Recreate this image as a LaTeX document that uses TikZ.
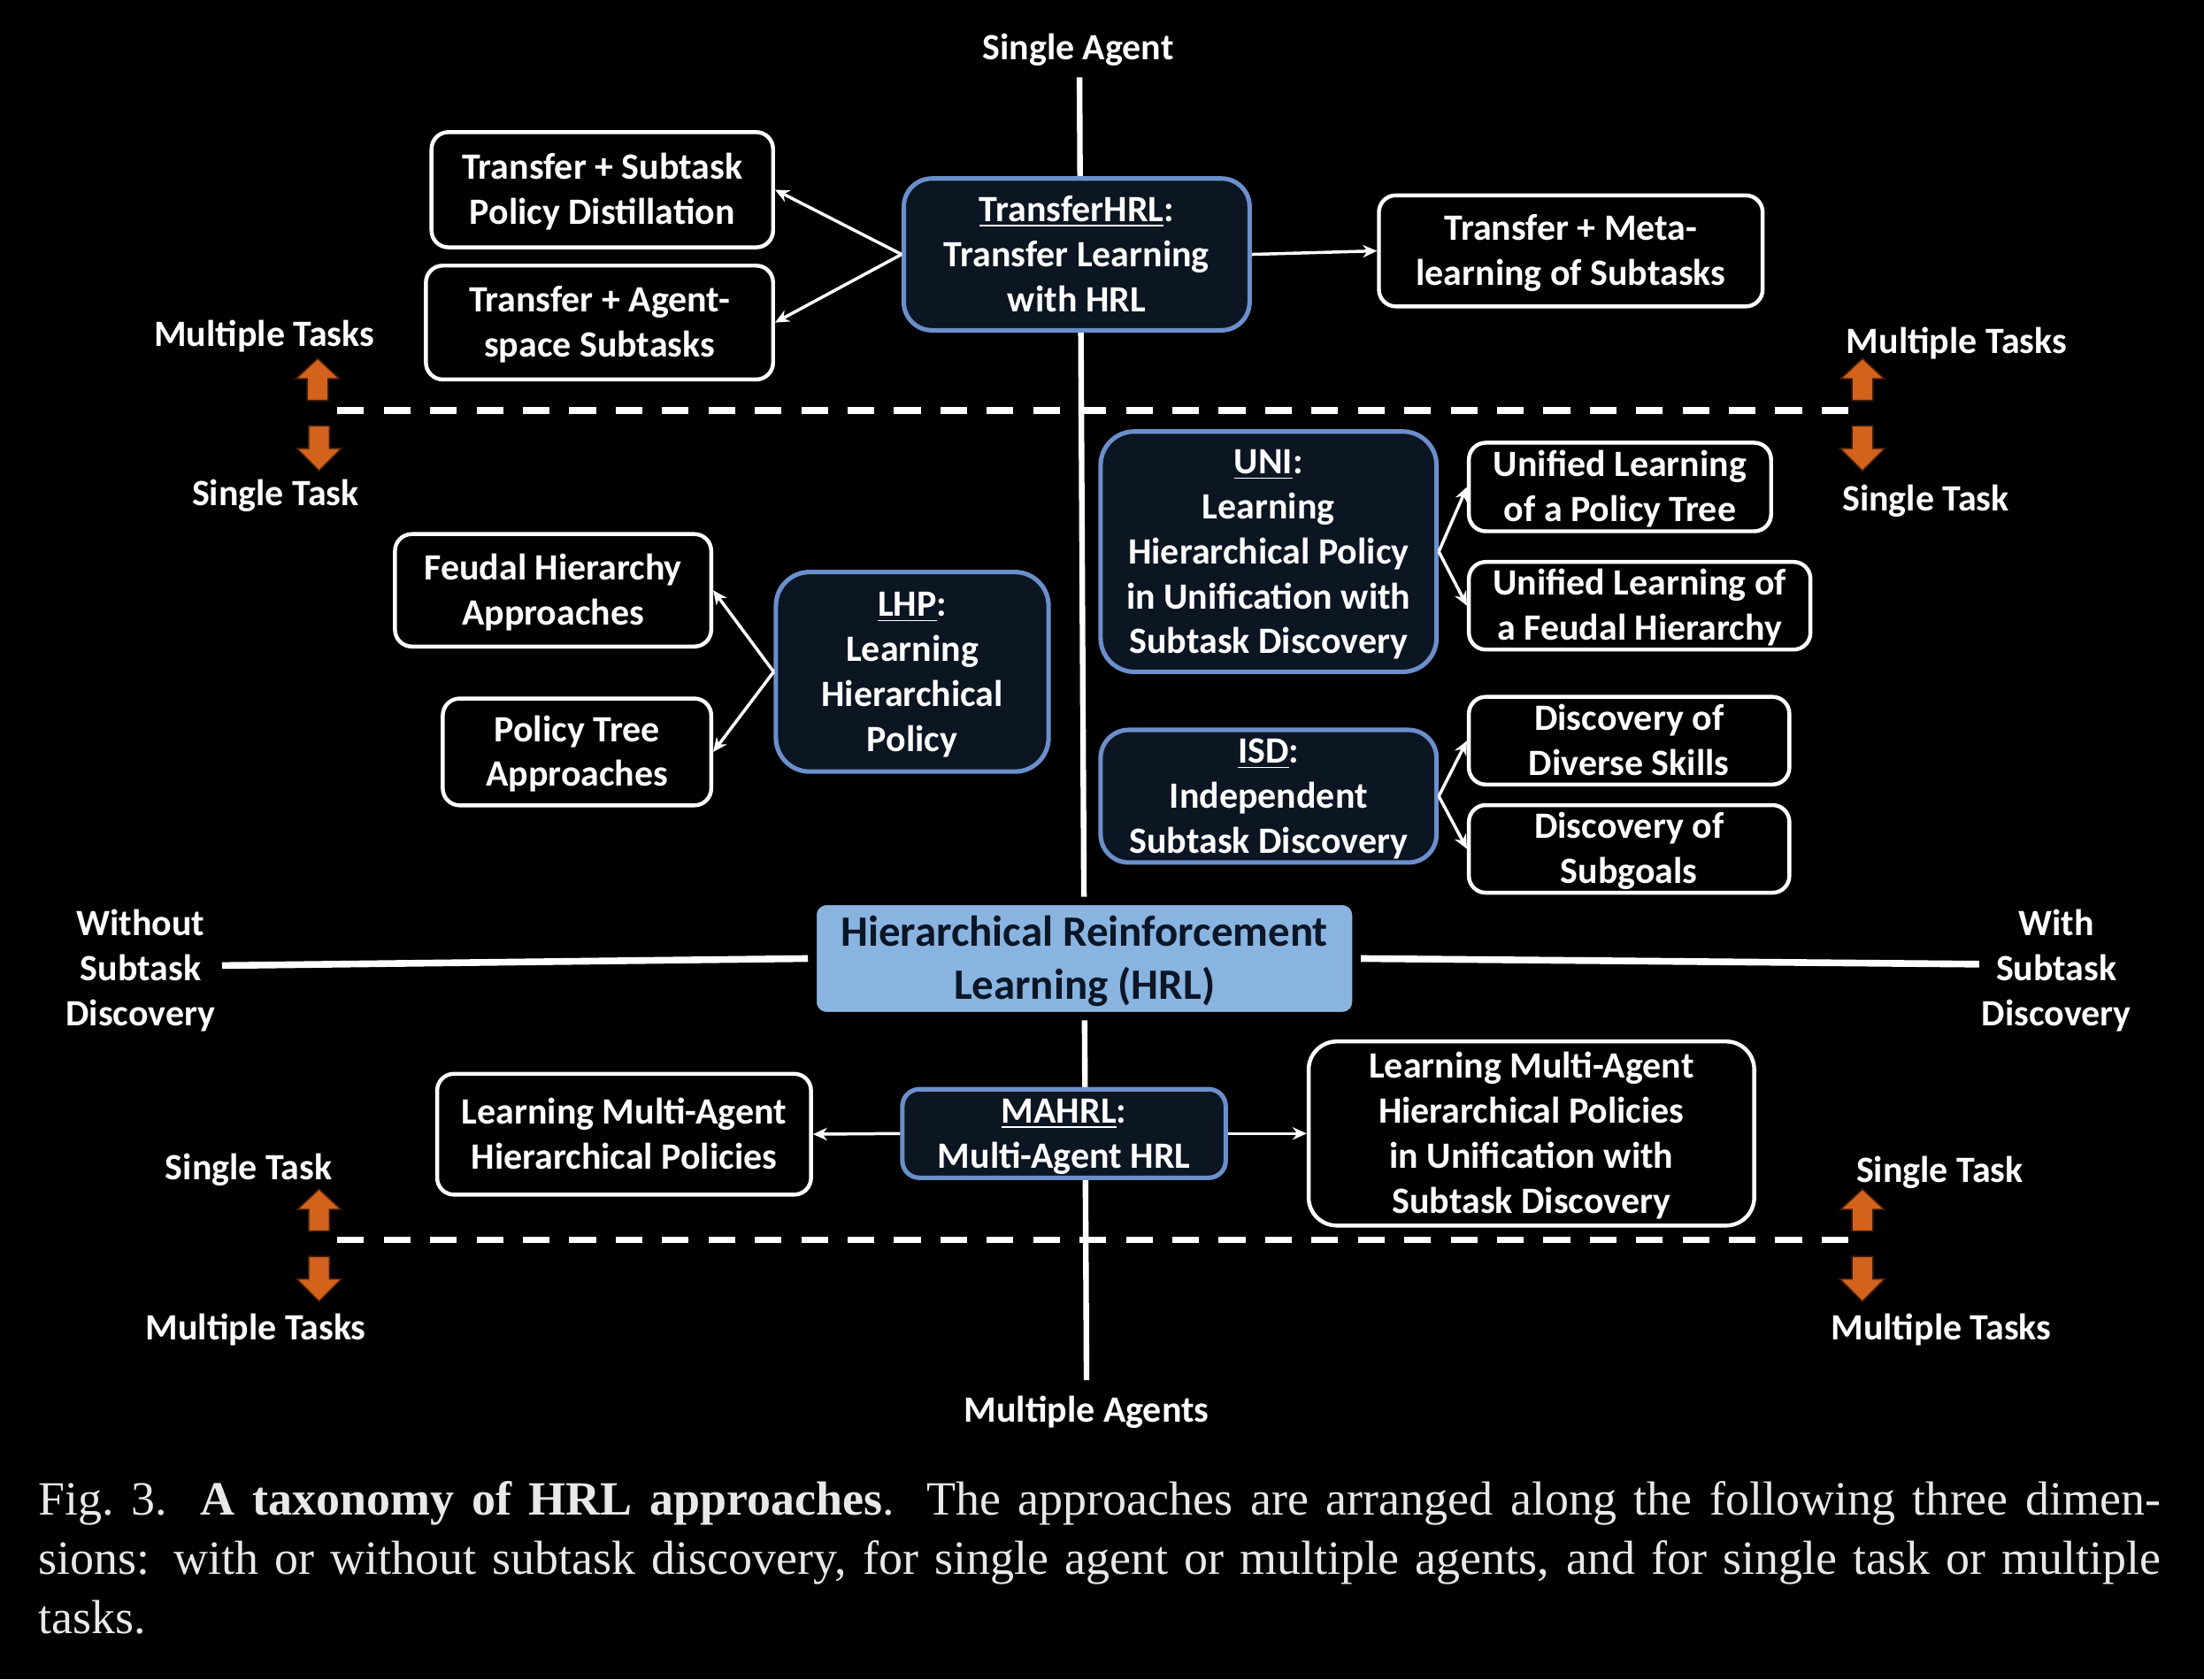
\documentclass[tikz,border=0pt]{standalone}
\usepackage{fontspec}
\setmainfont{Carlito}
\newfontfamily\capfont{Liberation Serif}
\usetikzlibrary{arrows.meta}
\definecolor{navy}{HTML}{0C1522}
\definecolor{bluebd}{HTML}{6B8FCB}
\definecolor{hrlfill}{HTML}{8AB4E0}
\definecolor{hrltext}{HTML}{0B1626}
\definecolor{orng}{HTML}{D2621C}
\definecolor{captxt}{HTML}{E8E8E8}
\pgfdeclarelayer{back}
\pgfdeclarelayer{mid}
\pgfsetlayers{back,mid,main}
\newcommand{\tstart}{\rule{0pt}{0.9em}}
\newcommand{\tend}{\rule[-0.25em]{0pt}{0pt}}
\newcommand{\orgup}[2]{\filldraw[orng arrow] ({#1-7.5},{#2+30}) -- ({#1-7.5},{#2+14.5}) -- ({#1-15.5},{#2+14.5}) -- (#1,#2) -- ({#1+15.5},{#2+14.5}) -- ({#1+7.5},{#2+14.5}) -- ({#1+7.5},{#2+30}) -- cycle;}
\newcommand{\orgdown}[2]{\filldraw[orng arrow] ({#1-7.5},#2) -- ({#1+7.5},#2) -- ({#1+7.5},{#2+16}) -- ({#1+16},{#2+16}) -- (#1,{#2+32}) -- ({#1-16},{#2+16}) -- ({#1-7.5},{#2+16}) -- cycle;}
\begin{document}
\begin{tikzpicture}[x=0.5pt,y=-0.5pt,
  every node/.style={font=\bfseries\fontsize{13.2}{16}\selectfont, text=white, align=center, inner sep=0pt},
  wbox/.style={draw=white, line width=1.4pt, fill=black, rounded corners=6pt},
  bbox/.style={draw=bluebd, line width=1.6pt, fill=navy, rounded corners=10pt},
  hrlbox/.style={draw=black, line width=3pt, fill=hrlfill, rounded corners=5pt, text=hrltext, font=\bfseries\fontsize{15.4}{19}\selectfont},
  conn/.style={draw=white, line width=1.1pt, -{Stealth[length=5pt,width=4.5pt]}},
  vaxis/.style={draw=white, line width=2pt},
  haxis/.style={draw=white, line width=2.4pt},
  dline/.style={draw=white, line width=2.3pt, dash pattern=on 9.5pt off 7pt},
  orng arrow/.style={fill=orng, draw=black!70!orng, line width=0.5pt},
  capline/.style={anchor=base west, text=captxt, font=\capfont\fontsize{17}{21}\selectfont, align=left},
]
\begin{pgfonlayer}{back}
\fill[black] (0,0) rectangle (1568,1195);
\end{pgfonlayer}
\useasboundingbox (0,0) rectangle (1568,1195);

% boxes
\node[wbox, minimum width=121.5pt, minimum height=41pt] (tpd) at (428.5,135) {\tstart Transfer + Subtask\\Policy Distillation\tend};
\node[wbox, minimum width=123.5pt, minimum height=40.5pt] (tas) at (426.5,229.5) {\tstart Transfer + Agent-\\space Subtasks\tend};
\node[bbox, minimum width=123pt, minimum height=54pt] (thrl) at (766,181) {\tstart\underline{TransferHRL}:\\Transfer Learning\\with HRL\tend};
\node[wbox, minimum width=136.5pt, minimum height=39.5pt] (tml) at (1117.5,178.5) {\tstart Transfer + Meta-\\learning of Subtasks\tend};
\node[bbox, minimum width=119.5pt, minimum height=85.5pt, rounded corners=12pt] (uni) at (902.5,392.5) {\tstart\underline{UNI}:\\Learning\\Hierarchical Policy\\in Unification with\\Subtask Discovery\tend};
\node[wbox, minimum width=107.5pt, minimum height=31.5pt] (ulpt) at (1152.5,346.5) {\tstart Unified Learning\\of a Policy Tree\tend};
\node[wbox, minimum width=121.5pt, minimum height=31pt] (ulfh) at (1166.5,431) {\tstart Unified Learning of\\a Feudal Hierarchy\tend};
\node[bbox, minimum width=119.5pt, minimum height=46.5pt] (isd) at (902.5,566.5) {\tstart\underline{ISD}:\\Independent\\Subtask Discovery\tend};
\node[wbox, minimum width=114pt, minimum height=31pt] (dds) at (1159,527) {\tstart Discovery of\\Diverse Skills\tend};
\node[wbox, minimum width=114pt, minimum height=31pt] (dsg) at (1159,604) {\tstart Discovery of\\Subgoals\tend};
\node[bbox, minimum width=97pt, minimum height=71pt, rounded corners=12pt] (lhp) at (649,478) {\tstart\underline{LHP}:\\Learning\\Hierarchical\\Policy\tend};
\node[wbox, minimum width=112.5pt, minimum height=40pt] (fha) at (393.5,420) {\tstart Feudal Hierarchy\\Approaches\tend};
\node[wbox, minimum width=95.5pt, minimum height=38pt] (pta) at (410.5,535) {\tstart Policy Tree\\Approaches\tend};
\node[hrlbox, minimum width=193.5pt, minimum height=41pt] (hrl) at (771.5,682) {\tstart Hierarchical Reinforcement\\Learning (HRL)\tend};
\node[bbox, minimum width=115pt, minimum height=31.5pt, rounded corners=6pt] (mahrl) at (757,806.5) {\tstart\underline{MAHRL}:\\Multi-Agent HRL\tend};
\node[wbox, minimum width=133pt, minimum height=43pt] (lmahp) at (444,807) {\tstart Learning Multi-Agent\\Hierarchical Policies\tend};
\node[wbox, minimum width=158.5pt, minimum height=65.5pt, rounded corners=10pt] (lmahpu) at (1089.5,806.5) {\tstart Learning Multi-Agent\\Hierarchical Policies\\in Unification with\\Subtask Discovery\tend};

% axis labels
\node (sagent) at (767,34) {\tstart Single Agent\tend};
\node (magents) at (773,1003) {\tstart Multiple Agents\tend};
\node (without) at (100,689) {\tstart Without\\Subtask\\Discovery\tend};
\node (with) at (1463,689) {\tstart With\\Subtask\\Discovery\tend};
\node (mt1) at (188,238) {\tstart Multiple Tasks\tend};
\node (st1) at (196,351) {\tstart Single Task\tend};
\node (mt2) at (1392,243) {\tstart Multiple Tasks\tend};
\node (st2) at (1370,355) {\tstart Single Task\tend};
\node (st3) at (177,831) {\tstart Single Task\tend};
\node (mt3) at (182,945) {\tstart Multiple Tasks\tend};
\node (st4) at (1380,833) {\tstart Single Task\tend};
\node (mt4) at (1381,945) {\tstart Multiple Tasks\tend};

% axes
\coordinate (vtop) at (768,55);
\coordinate (vbot) at (773,982);
\coordinate (hleft) at (158,687);
\coordinate (hright) at (1408,686);
\coordinate (dtl) at (240,292);
\coordinate (dtr) at (1320,292);
\coordinate (dbl) at (240,882);
\coordinate (dbr) at (1320,882);
\begin{pgfonlayer}{mid}
\draw[vaxis] (vtop) -- (vbot);
\draw[haxis] (hleft) -- (hrl.west);
\draw[haxis] (hrl.east) -- (hright);
\draw[dline] (dtl) -- (dtr);
\draw[dline] (dbl) -- (dbr);
\end{pgfonlayer}

% orange arrows
\orgup{226}{255}
\orgdown{227}{303}
\orgup{1325}{255}
\orgdown{1325}{303}
\orgup{227}{846}
\orgdown{227}{894}
\orgup{1325}{846}
\orgdown{1325}{894}

% connectors
\draw[conn] (thrl.west) -- (tpd.east);
\draw[conn] (thrl.west) -- (tas.east);
\draw[conn] (thrl.east) -- (tml.west);
\draw[conn] (uni.east) -- (ulpt.west);
\draw[conn] (uni.east) -- (ulfh.west);
\draw[conn] (isd.east) -- (dds.west);
\draw[conn] (isd.east) -- (dsg.west);
\draw[conn] (lhp.west) -- (fha.east);
\draw[conn] (lhp.west) -- (pta.east);
\draw[conn] (mahrl.west) -- (lmahp.east);
\draw[conn] (mahrl.east) -- (lmahpu.west);

% caption
\node[capline] (cap1) at (27,1078) {\hbox to 755pt{Fig.~3.\hskip 0.7em{\bfseries A taxonomy of HRL approaches}. The approaches are arranged along the following three dimen-}};
\node[capline] (cap2) at (27,1120) {\hbox to 755pt{sions: with or without subtask discovery, for single agent or multiple agents, and for single task or multiple}};
\node[capline] (cap3) at (27,1162) {tasks.};
\end{tikzpicture}
\end{document}
